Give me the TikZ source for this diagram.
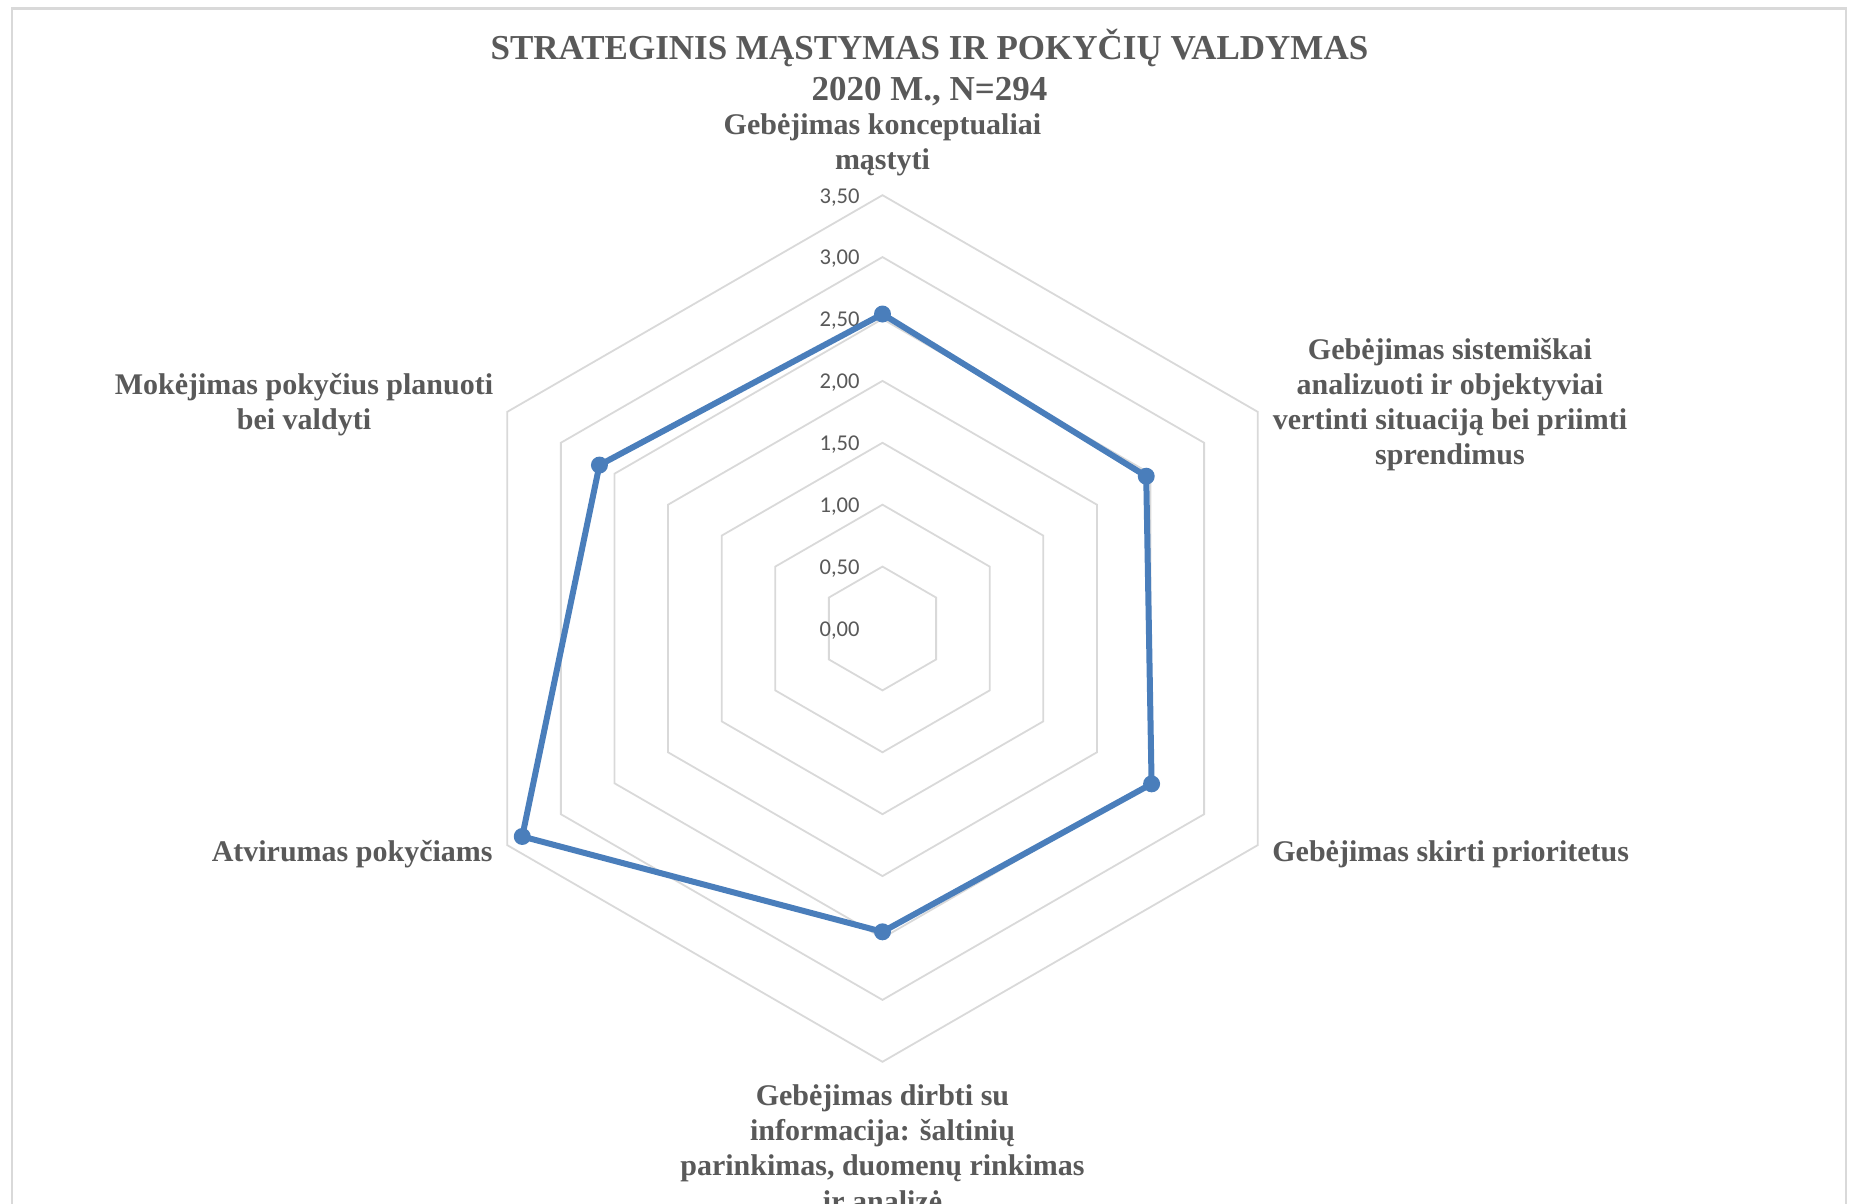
\documentclass[tikz,border=0pt]{standalone}
\usepackage{fontspec}
\setmainfont{Liberation Serif}
\newfontfamily\tickfont{Carlito}
\usetikzlibrary{calc}
\usepackage{color}
\definecolor{txtgray}{HTML}{595959}
\definecolor{gridgray}{HTML}{D9D9D9}
\definecolor{serieblue}{HTML}{4A7EBB}

\begin{document}
\begin{tikzpicture}[x=0.5pt, y=0.5pt,
  ring/.style={draw=gridgray, line width=0.9pt},
  axlabel/.style={text=txtgray, font=\fontsize{15}{17.6}\selectfont\bfseries, align=center, inner sep=0pt},
  ticklabel/.style={text=txtgray, font=\tickfont\fontsize{11.3}{13}\selectfont, anchor=east, inner sep=0pt},
  serie/.style={draw=serieblue, line width=3pt, line join=round},
  dot/.style={circle, fill=serieblue, inner sep=0pt, minimum size=8.5pt}]

\useasboundingbox (-882.5,-575.5) rectangle (971.5,628.5);
\clip (-882.5,-575.5) rectangle (971.5,628.5);

% chart frame
\draw [gridgray, line width=1.2pt] (-870.5,-700) -- (-870.5,620) -- (963.5,620) -- (963.5,-700);

\node at (47, 561) (title) [text=txtgray, font=\fontsize{17.5}{20.5}\selectfont\bfseries, align=center, inner sep=0pt]
  {STRATEGINIS MĄSTYMAS IR POKYČIŲ VALDYMAS\\2020 M., N=294};

% rings 0,50 ... 3,50
\foreach \r in {61.9,123.8,...,433.4}
  \draw [ring] (90:\r) -- (30:\r) -- (-30:\r) -- (-90:\r) -- (210:\r) -- (150:\r) -- cycle;

\foreach \i in {0,...,7} {
  \pgfmathsetmacro\v{\i*0.5}
  \node at (-22.5, \i*61.9-2) (tick\i) [ticklabel] {\pgfmathprintnumber[fixed, fixed zerofill, precision=2, use comma, assume math mode=true]{\v}};
}

\begin{scope}[scale=123.8]
\node at (90:2.54) (d1) [dot] {};
\node at (30:2.46) (d2) [dot] {};
\node at (-30:2.51) (d3) [dot] {};
\node at (-90:2.45) (d4) [dot] {};
\node at (210:3.36) (d5) [dot] {};
\node at (150:2.64) (d6) [dot] {};
\end{scope}
\draw [serie] (d1.center) -- (d2.center) -- (d3.center) -- (d4.center) -- (d5.center) -- (d6.center) -- cycle;

\node at (0, 484) (ax1) [axlabel] {Gebėjimas konceptualiai\\mąstyti};
\node at (567.5, 224) (ax2) [axlabel] {Gebėjimas sistemiškai\\analizuoti ir objektyviai\\vertinti situaciją bei priimti\\sprendimus};
\node at (389.5, -226) (ax3) [axlabel, anchor=west] {Gebėjimas skirti prioritetus};
\node at (0, -519.5) (ax4) [axlabel] {Gebėjimas dirbti su\\informacija: šaltinių\\parinkimas, duomenų rinkimas\\ir analizė};
\node at (-389.5, -226) (ax5) [axlabel, anchor=east] {Atvirumas pokyčiams};
\node at (-578.5, 224) (ax6) [axlabel] {Mokėjimas pokyčius planuoti\\bei valdyti};

\end{tikzpicture}
\end{document}
